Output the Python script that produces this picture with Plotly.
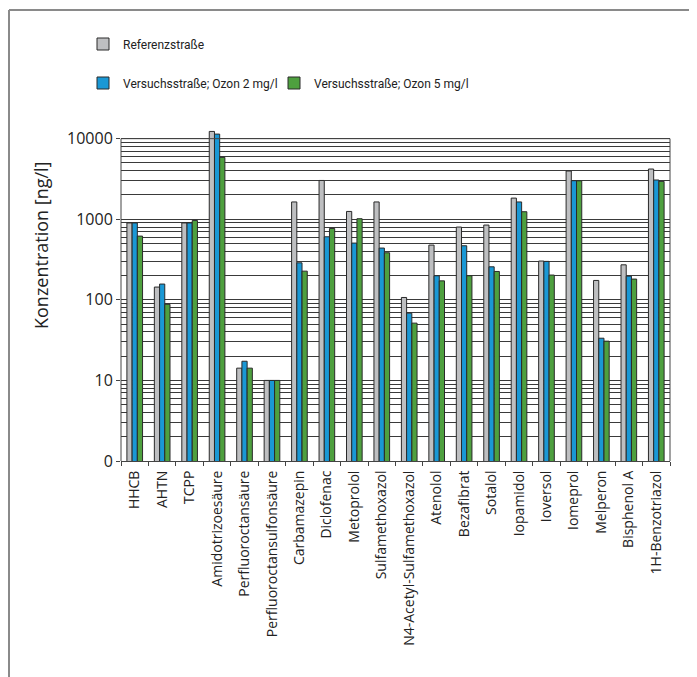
import plotly.graph_objects as go

categories = ["HHCB", "AHTN", "TCPP", "Amidotrizoesäure", "Perfluoroctansäure",
              "Perfluoroctansulfonsäure", "Carbamazepin", "Diclofenac", "Metoprolol",
              "Sulfamethoxazol", "N4-Acetyl-Sulfamethoxazol", "Atenolol", "Bezafibrat",
              "Sotalol", "Iopamidol", "Ioversol", "Iomeprol", "Melperon", "Bisphenol A",
              "1H-Benzotriazol"]

referenz = [900, 144, 900, 12300, 14.2, 10, 1640, 3030, 1250, 1640,
            107, 478, 800, 847, 1830, 303, 3970, 174, 272, 4200]
ozon2 = [900, 157, 900, 11400, 17.3, 10, 288, 606, 506, 439,
         68.4, 199, 469, 257, 1640, 300, 3010, 33.4, 197, 3070]
ozon5 = [618, 88, 966, 5860, 14.2, 10, 227, 769, 1015, 384,
         51.4, 172, 199, 225, 1240, 203, 3000, 30.7, 181, 2950]

series_names = ["Referenzstraße", "Versuchsstraße; Ozon 2 mg/l", "Versuchsstraße; Ozon 5 mg/l"]
series_colors = ["#BEBFC1", "#1A98D5", "#4EA03F"]

ytick_vals = [1, 10, 100, 1000, 10000]
ytick_text = ["0", "10", "100", "1000", "10000"]
y_title = "Konzentration [ng/l]"

FONT = "Open Sans"
LEGEND_FONT = "Roboto"

OFF = 8  # page body margin of the html page
W, H = 697 - OFF, 677 - OFF

fig = go.Figure()
legends = ["legend", "legend2", "legend3"]
for vals, name, col, lg in zip([referenz, ozon2, ozon5], series_names, series_colors, legends):
    fig.add_trace(go.Bar(
        x=categories, y=vals, name=name, legend=lg, showlegend=True,
        marker=dict(color=col, line=dict(color="#2a2a2a", width=1)),
    ))

minor_vals = [m * 10 ** d for d in range(0, 4) for m in range(2, 10)]

top_log = 4.12
ML = 121 - OFF
MT = 129 - OFF
MB = H - (461 - OFF)
MR = W - (670 - OFF)


def leg(px, py):
    return dict(xref="container", yref="container", x=(px - OFF) / W, y=1 - (py - OFF) / H,
                xanchor="left", yanchor="middle", orientation="h",
                font=dict(size=12, family=LEGEND_FONT, color="#222"),
                bgcolor="rgba(0,0,0,0)")


fig.update_layout(
    width=W, height=H, showlegend=True,
    margin=dict(l=ML, r=MR, t=MT, b=MB, autoexpand=False),
    paper_bgcolor="white", plot_bgcolor="white",
    barmode="group", bargap=0.43, bargroupgap=0,
    font=dict(family=FONT, color="#222", size=14),
    legend=leg(83, 44),
    legend2=leg(83, 83),
    legend3=leg(274, 83),
    xaxis=dict(
        type="category", tickangle=-90, ticks="outside", ticklen=4,
        tickson="boundaries", tickcolor="#444", showline=True, linecolor="#444",
        linewidth=1, showgrid=False, tickfont=dict(size=14, family=FONT),
        automargin=False, ticklabelstandoff=3,
    ),
    yaxis=dict(
        type="log", range=[0, top_log], tickmode="array", tickvals=ytick_vals,
        ticktext=ytick_text, ticks="outside", ticklen=4, tickcolor="#444",
        showline=False, showgrid=True, gridcolor="#3a3a3a", gridwidth=1,
        zeroline=False, automargin=False,
        minor=dict(tickmode="array", tickvals=minor_vals, showgrid=True,
                   gridcolor="#3a3a3a", gridwidth=1, ticks=""),
        tickfont=dict(size=16, family=FONT),
    ),
)

pw = W - ML - MR
ph = H - MT - MB


def px_x(p):
    return (p - OFF - ML) / pw


def px_y(p):
    return (H - MB - (p - OFF)) / ph


# y-axis title (placed as in the original, above the plot centre)
fig.add_annotation(text=y_title, textangle=-90, xref="paper", yref="paper",
                   x=px_x(41), y=px_y(245), xanchor="center", yanchor="middle",
                   showarrow=False, font=dict(size=18, family=FONT, color="#222"))

# frame of the plot area (up to 10000) and outer corner lines
ytop = 4 / top_log
line_dark = dict(color="#444", width=1)
fig.add_shape(type="line", xref="paper", yref="paper", x0=0, x1=0, y0=0, y1=ytop, line=line_dark)
fig.add_shape(type="line", xref="paper", yref="paper", x0=1, x1=1, y0=0, y1=ytop, line=line_dark)
fig.add_shape(type="line", xref="paper", yref="paper", x0=0, x1=1, y0=ytop, y1=ytop, line=line_dark)
frame = dict(color="#8a8a8a", width=2)
fig.add_shape(type="line", xref="paper", yref="paper", x0=px_x(9), x1=px_x(700),
              y0=px_y(10), y1=px_y(10), line=frame)
fig.add_shape(type="line", xref="paper", yref="paper", x0=px_x(9), x1=px_x(9),
              y0=px_y(680), y1=px_y(10), line=frame)

fig.write_html("out.html")
